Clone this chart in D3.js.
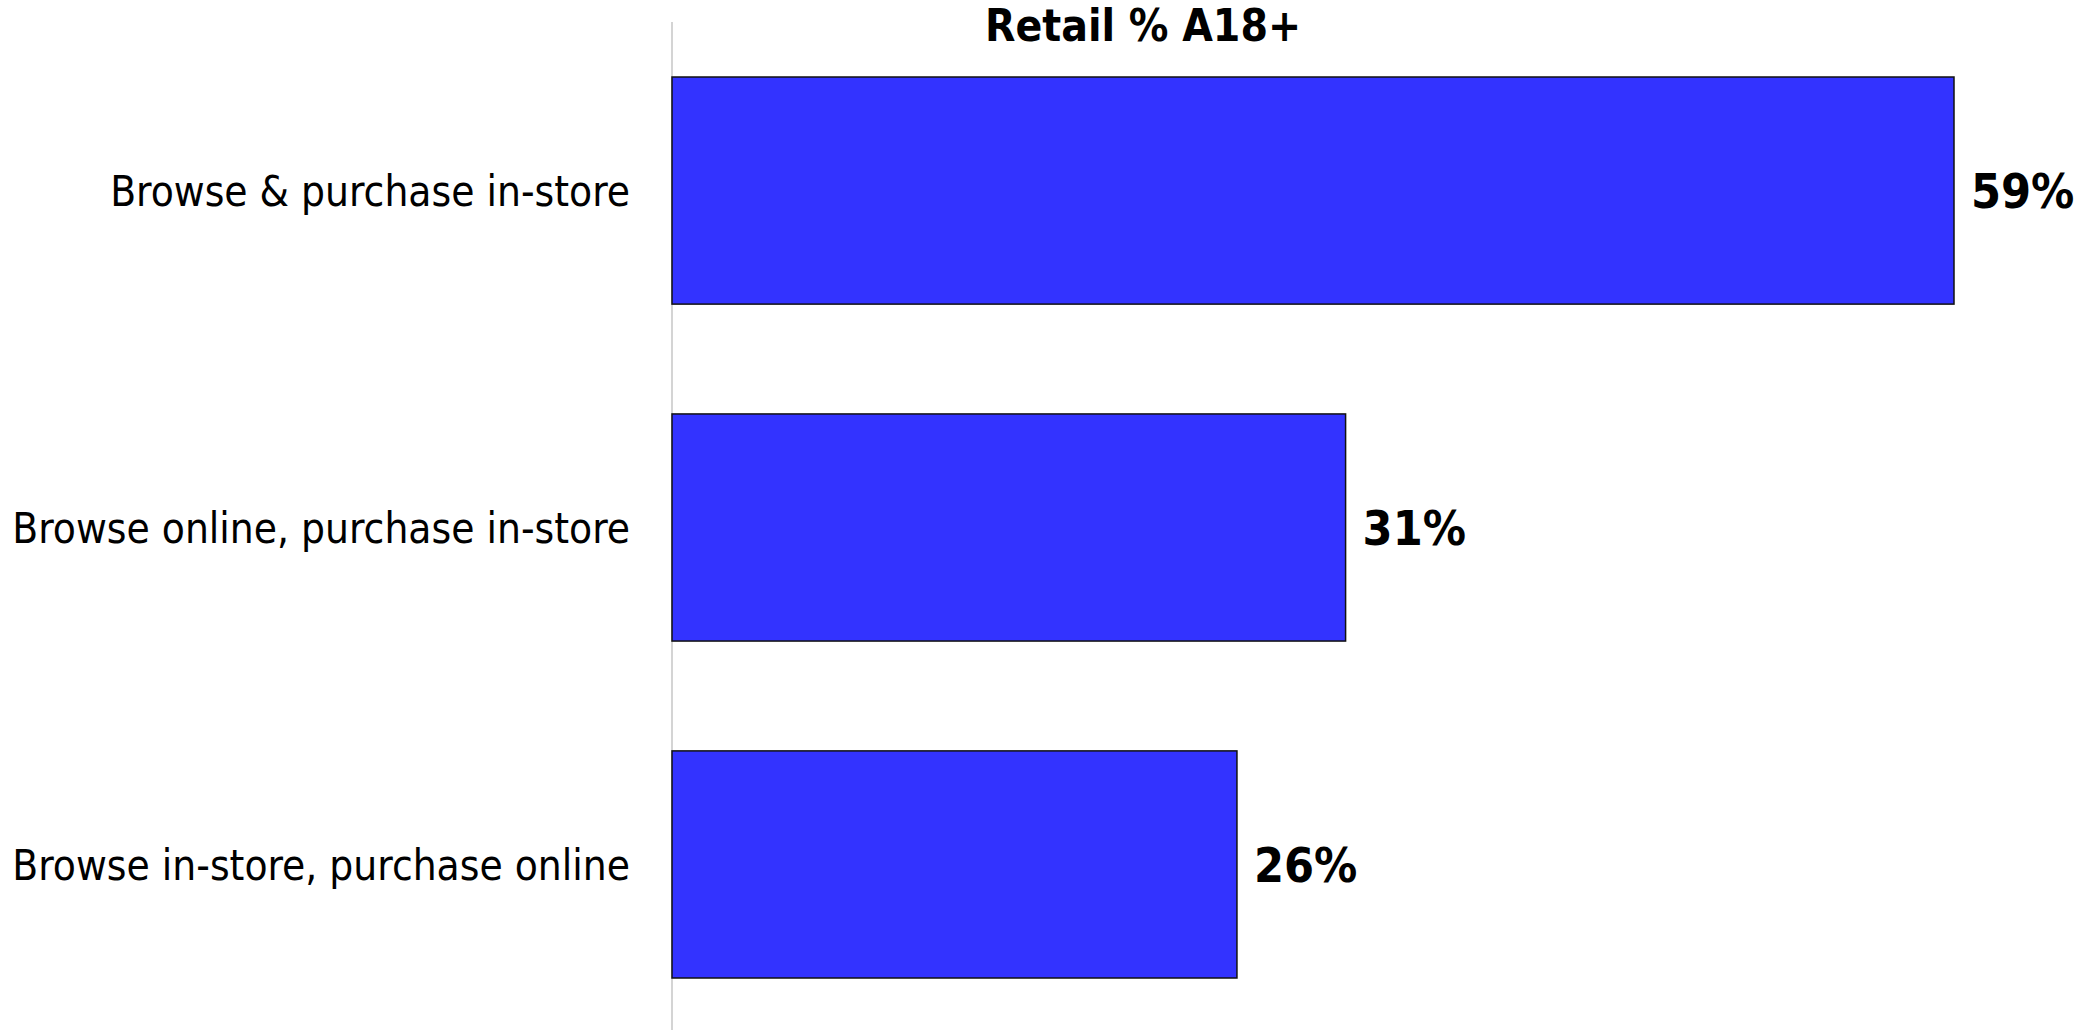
<!DOCTYPE html>
<html>
<head>
<meta charset="utf-8">
<script src="https://cdn.jsdelivr.net/npm/d3@7"></script>
<style>
  html, body { margin: 0; padding: 0; background: #ffffff; }
  svg { display: block; }
  text { font-family: "DejaVu Sans Condensed", "DejaVu Sans", sans-serif; fill: #000; }
</style>
</head>
<body>
<script>
// Retail shopping behaviour, % of adults 18+
const categories = [
  "Browse & purchase in-store",
  "Browse online, purchase in-store",
  "Browse in-store, purchase online"
];
const values = [59, 31, 26];
const chartTitle = "Retail % A18+";

const width = 2090, height = 1030;
const axisX = 672;

const svg = d3.select("body").append("svg")
  .attr("width", width)
  .attr("height", height);

const x = d3.scaleLinear().domain([0, 59]).range([axisX, 1954]);
const y = d3.scaleBand().domain(categories).range([77, 978]).paddingInner(0.326).paddingOuter(0);

// vertical category axis line
svg.append("line")
  .attr("x1", axisX).attr("x2", axisX)
  .attr("y1", 22).attr("y2", height)
  .attr("stroke", "#d4d4d4")
  .attr("stroke-width", 2);

// bars
svg.selectAll("rect.bar")
  .data(values)
  .join("rect")
  .attr("class", "bar")
  .attr("x", x(0))
  .attr("y", (d, i) => y(categories[i]))
  .attr("width", d => x(d) - x(0))
  .attr("height", y.bandwidth())
  .attr("fill", "#3333ff")
  .attr("stroke", "#111")
  .attr("stroke-width", 1.5);

// category labels
svg.selectAll("text.cat")
  .data(categories)
  .join("text")
  .attr("class", "cat")
  .attr("x", 630)
  .attr("y", d => y(d) + y.bandwidth() / 2)
  .attr("dy", "0.36em")
  .attr("text-anchor", "end")
  .style("font-size", "42px")
  .text(d => d);

// value labels
svg.selectAll("text.val")
  .data(values)
  .join("text")
  .attr("class", "val")
  .attr("x", d => x(d) + 17)
  .attr("y", (d, i) => y(categories[i]) + y.bandwidth() / 2)
  .attr("dy", "0.36em")
  .style("font-size", "48px")
  .style("font-weight", "bold")
  .text(d => d + "%");

// title
svg.append("text")
  .attr("x", 1143)
  .attr("y", 41)
  .attr("text-anchor", "middle")
  .style("font-size", "44px")
  .style("font-weight", "bold")
  .text(chartTitle);
</script>
</body>
</html>
